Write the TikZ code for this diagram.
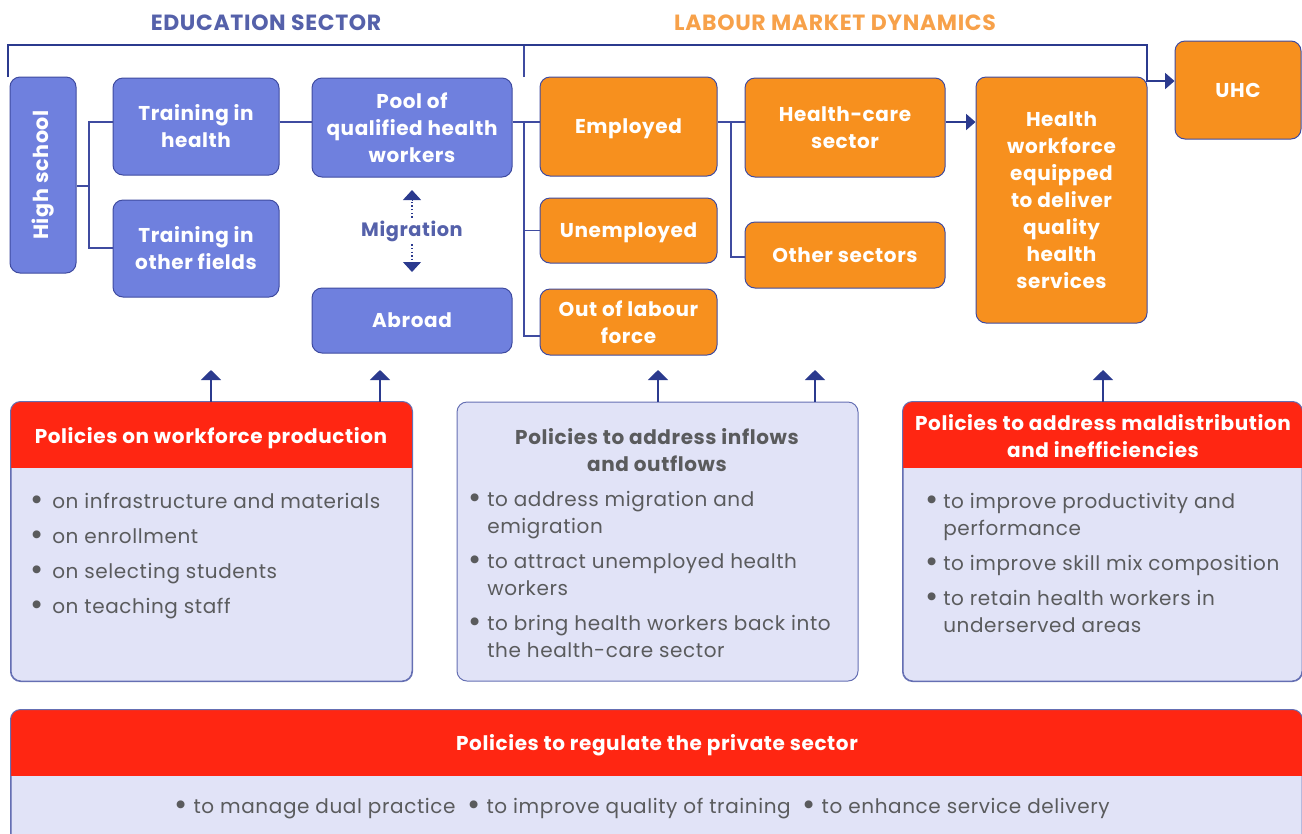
\documentclass[tikz,border=0pt]{standalone}
\usepackage{fontspec}
\setmainfont{Poppins}
\newfontfamily\spaced{Poppins}[LetterSpace=3]
\usetikzlibrary{arrows.meta,calc}
\definecolor{bfill}{HTML}{6F80DE}
\definecolor{ofill}{HTML}{F7901E}
\definecolor{edge}{HTML}{3F4BA0}
\definecolor{navy}{HTML}{2B3A8E}
\definecolor{pred}{HTML}{FF2612}
\definecolor{lav}{HTML}{E1E3F7}
\definecolor{tblue}{HTML}{5561AA}
\definecolor{torange}{HTML}{F7A14A}
\definecolor{gtext}{HTML}{5A5B5D}
\newdimen\pxu \pxu=0.75pt
\newcommand\bul{\raisebox{-0.14em}{\scalebox{1.6}{•}}}
\begin{document}
\begin{tikzpicture}[x=0.75pt,y=-0.75pt,
  boxbase/.style={draw=edge, line width=1\pxu, rounded corners=10\pxu, text=white,
    font=\spaced\bfseries\fontsize{15}{20.25}\selectfont, align=center, inner sep=0pt},
  bbox/.style={boxbase, fill=bfill},
  obox/.style={boxbase, fill=ofill},
  oneline/.style={text height=10.5pt, text depth=0pt},
  polbox/.style={draw=edge!80, line width=1\pxu, rounded corners=10\pxu, fill=lav, inner sep=0pt},
  conn/.style={draw=edge, line width=1.1\pxu},
  arr/.style={conn, draw=navy, line width=1.6\pxu, -{Triangle[width=15pt,length=7.5pt]}},
  rarr/.style={conn, -{Triangle[width=12pt,length=7pt]}, draw=navy, line width=1.3\pxu},
  dots/.style={draw=navy, line width=1.4\pxu, dash pattern=on 1.4\pxu off 2.2\pxu},
  migtip/.style={draw=navy, fill=navy, line width=1\pxu, -{Triangle[width=13.5pt,length=7.5pt]}},
  sectitle/.style={font=\spaced\bfseries\fontsize{16.5}{18}\selectfont},
  htxt/.style={text=white, font=\spaced\bfseries\fontsize{15}{20.25}\selectfont, align=center},
  btxt/.style={text=gtext, font=\spaced\fontsize{15}{20.25}\selectfont, anchor=base west, inner sep=0pt},
]
\useasboundingbox (0,0) rectangle (1302,833);

% section titles
\node[sectitle, text=tblue] (edu) at (266,23) {EDUCATION SECTOR};
\node[sectitle, text=torange] (lab) at (835,23) {LABOUR MARKET DYNAMICS};

% blue boxes
\node[bbox, minimum width=66\pxu, minimum height=196\pxu, font=\spaced\bfseries\fontsize{15.5}{20}\selectfont] (hs) at (43,175) {\rotatebox{90}{High school}};
\node[bbox, minimum width=166\pxu, minimum height=97\pxu] (th) at (196,126.5) {Training in\\health};
\node[bbox, minimum width=166\pxu, minimum height=97\pxu] (to) at (196,248.5) {Training in\\other fields};
\node[bbox, minimum width=200\pxu, minimum height=99\pxu] (pool) at (412,127.5) {Pool of\\qualified health\\workers};
\node[bbox, oneline, minimum width=200\pxu, minimum height=65\pxu] (abr) at (412,320.5) {Abroad};
\node[text=tblue, font=\spaced\bfseries\fontsize{14.5}{18}\selectfont, inner sep=2pt] (mig) at (412,231) {Migration};

% orange boxes
\node[obox, oneline, minimum width=177\pxu, minimum height=99\pxu] (emp) at (628.5,126.5) {Employed};
\node[obox, oneline, minimum width=177\pxu, minimum height=65\pxu] (une) at (628.5,230.5) {Unemployed};
\node[obox, minimum width=177\pxu, minimum height=66\pxu] (olf) at (628.5,322) {Out of labour\\force};
\node[obox, minimum width=200\pxu, minimum height=99\pxu] (hc) at (845,127.5) {Health-care\\sector};
\node[obox, oneline, minimum width=200\pxu, minimum height=66\pxu] (oth) at (845,255) {Other sectors};
\node[obox, minimum width=171\pxu, minimum height=246\pxu] (hw) at (1061.5,200) {Health\\workforce\\equipped\\to deliver\\quality\\health\\services};
\node[obox, oneline, minimum width=126\pxu, minimum height=98\pxu] (uhc) at (1238,90) {UHC};

% bracket
\coordinate (bl) at (8,77);
\coordinate (br) at (1147,45);
\coordinate (tickb) at (524,77);
\coordinate (tickt) at (524,45);
\coordinate (uhcin) at ($(uhc.west)+(0,-9)$);
\draw[conn] (tickb) -- (tickt);
\draw[rarr] (bl) |- (br) |- (uhcin);

% trees
\coordinate (r1) at (0,122);
\coordinate (j1) at (89,0);
\coordinate (j2) at (524,0);
\coordinate (j3) at (731,0);
\draw[conn] (hs.east |- 0,186) -- (j1 |- 0,186);
\draw[conn] (th.west |- r1) -| (j1 |- 0,248) -- (to.west |- 0,248);
\draw[conn] (th.east |- r1) -- (pool.west |- r1);
\draw[conn] (pool.east |- r1) -- (emp.west |- r1);
\draw[conn] (j2 |- r1) |- (olf.west |- 0,336);
\draw[conn] (j2 |- une.west) -- (une.west);
\draw[conn] (emp.east |- r1) -- (hc.west |- r1);
\draw[conn] (j3 |- r1) |- (oth.west |- 0,257);
\draw[rarr] (hc.east |- r1) -- (hw.west |- r1);

% migration
\coordinate (mt1) at (412,200);
\coordinate (mt2) at (412,190);
\coordinate (mb1) at (412,262);
\coordinate (mb2) at (412,272);
\draw[dots] (mig.north) -- (mt1);
\draw[migtip] (mt1) -- (mt2);
\draw[dots] (mig.south) -- (mb1);
\draw[migtip] (mb1) -- (mb2);

% policy boxes
\node[polbox, minimum width=401\pxu, minimum height=279\pxu] (p1) at (211.5,541.5) {};
\node[polbox, minimum width=401\pxu, minimum height=279\pxu] (p2) at (657.5,541.5) {};
\node[polbox, minimum width=399\pxu, minimum height=279\pxu] (p3) at (1102.5,541.5) {};
\node[polbox, minimum width=1291\pxu, minimum height=150\pxu] (p4) at (656.5,785) {};
\foreach \p in {p1,p3,p4}{
  \begin{scope}
    \clip[rounded corners=10\pxu] (\p.north west) rectangle (\p.south east);
    \fill[pred] (\p.north west) rectangle ($(\p.north east)+(0,66)$);
  \end{scope}
  \draw[draw=edge!80, line width=1\pxu, rounded corners=10\pxu] (\p.north west) rectangle (\p.south east);
}

% policy arrows
\coordinate (a1) at (211,370);
\coordinate (a2) at (380,370);
\coordinate (a3) at (658,370);
\coordinate (a4) at (815,370);
\coordinate (a5) at (1103,370);
\draw[arr] (p1.north -| a1) -- (a1);
\draw[arr] (p1.north -| a2) -- (a2);
\draw[arr] (p2.north -| a3) -- (a3);
\draw[arr] (p2.north -| a4) -- (a4);
\draw[arr] (p3.north -| a5) -- (a5);

% headers
\node[htxt] (h1) at (211,438) {Policies on workforce production};
\node[htxt, text=gtext] (h2) at (657,450) {Policies to address inflows\\and outflows};
\node[htxt] (h3) at (1103,436.5) {Policies to address maldistribution\\and inefficiencies};
\node[htxt] (h4) at (657,745) {Policies to regulate the private sector};

% bullets box 1
\node[btxt] (b11) at (30,508) {\makebox[22\pxu][l]{\bul}on infrastructure and materials};
\node[btxt] (b12) at (30,543) {\makebox[22\pxu][l]{\bul}on enrollment};
\node[btxt] (b13) at (30,578) {\makebox[22\pxu][l]{\bul}on selecting students};
\node[btxt] (b14) at (30,613) {\makebox[22\pxu][l]{\bul}on teaching staff};
% bullets box 2
\node[btxt] (b21) at (468,506) {\makebox[19\pxu][l]{\bul}to address migration and};
\node[btxt] (b21b) at (487,533) {emigration};
\node[btxt] (b22) at (468,568) {\makebox[19\pxu][l]{\bul}to attract unemployed health};
\node[btxt] (b22b) at (487,595) {workers};
\node[btxt] (b23) at (468,630) {\makebox[19\pxu][l]{\bul}to bring health workers back into};
\node[btxt] (b23b) at (487,657) {the health-care sector};
% bullets box 3
\node[btxt] (b31) at (925,508) {\makebox[18\pxu][l]{\bul}to improve productivity and};
\node[btxt] (b31b) at (943,535) {performance};
\node[btxt] (b32) at (925,570) {\makebox[18\pxu][l]{\bul}to improve skill mix composition};
\node[btxt] (b33) at (925,605) {\makebox[18\pxu][l]{\bul}to retain health workers in};
\node[btxt] (b33b) at (943,632) {underserved areas};
% bottom
\node[btxt, anchor=base] (b41) at (642,813) {\bul\ to manage dual practice\ \ \bul\ to improve quality of training\ \ \bul\ to enhance service delivery};
\end{tikzpicture}
\end{document}
